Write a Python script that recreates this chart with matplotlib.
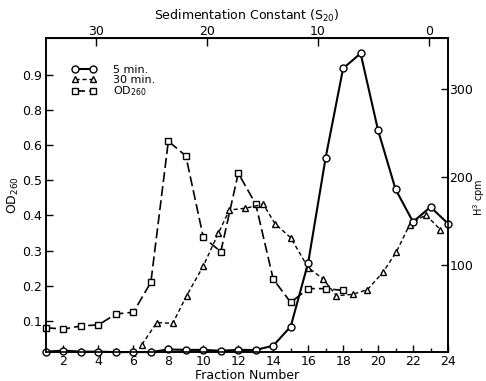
import matplotlib
matplotlib.use('Agg')
import matplotlib.pyplot as plt
from matplotlib import ticker

# 5 min. label, H3 cpm per fraction
fractions = list(range(1, 25))
cpm_5min = [1.5, 2.7, 1.5, 1.5, 1.0, 1.0, 1.0, 4.0, 3.5, 3.5, 2.5, 3.5,
            3.4, 8.3, 30, 102.6, 222, 323.5, 340.5, 253, 186, 149, 166, 147]

# 30 min. label (points sit between fractions in the original)
frac_30min = [6.48, 7.34, 8.25, 9.05, 10.0, 10.86, 11.49, 12.38, 13.43, 14.1, 15.0,
              16.0, 16.86, 17.62, 18.54, 19.39, 20.29, 21.05, 21.81, 22.73, 23.57]
cpm_30min = [9.5, 34.5, 33.7, 65.2, 98.9, 136, 162.5, 164.4, 169, 147, 131,
             97, 84, 65, 66.6, 72, 92, 115, 146, 157, 140]

# OD260
frac_od = list(range(1, 19))
od_260 = [0.081, 0.077, 0.086, 0.089, 0.120, 0.125, 0.210, 0.611, 0.569,
          0.338, 0.297, 0.520, 0.432, 0.219, 0.153, 0.192, 0.192, 0.187]

# the printed left axis skips 0.7, labels kept as printed
od_ticks = [0.1, 0.2, 0.3, 0.4, 0.5, 0.6, 0.7, 0.8]
od_tick_labels = ['0.1', '0.2', '0.3', '0.4', '0.5', '0.6', '0.8', '0.9']
cpm_ticks = [100, 200, 300]
sed_ticks = [30, 20, 10, 0]


def frac_to_sed(f):
    return (22.9 - f) / 0.635


def sed_to_frac(s):
    return 22.9 - 0.635 * s


plt.rcParams['font.family'] = 'DejaVu Sans'
plt.rcParams['font.size'] = 9

fig = plt.figure(figsize=(4.86, 3.81), dpi=100)
ax = fig.add_axes([46 / 486, 29 / 381, 402 / 486, 314 / 381])
ax2 = ax.twinx()

ax.set_xlim(1.0, 24.0)
ax.set_ylim(0.012, 0.904)
ax2.set_ylim(1.1, 358)

line_kw = dict(color='black', markerfacecolor='white', markeredgecolor='black',
               markeredgewidth=1.0, clip_on=False)

l_od, = ax.plot(frac_od, od_260, marker='s', markersize=5, linewidth=1.2,
                dashes=(6, 2.5), label='OD$_{260}$', **line_kw)
l_30, = ax2.plot(frac_30min, cpm_30min, marker='^', markersize=5, linewidth=1.0,
                 dashes=(3, 2), label='30 min.', **line_kw)
l_5, = ax2.plot(fractions, cpm_5min, marker='o', markersize=5, linewidth=1.5,
                label='5 min.', **line_kw)

# bottom axis
ax.xaxis.set_major_locator(ticker.MultipleLocator(2))
ax.xaxis.set_minor_locator(ticker.MultipleLocator(1))
ax.xaxis.set_major_formatter(ticker.FuncFormatter(lambda v, p: '' if v < 2 else '%d' % v))
ax.tick_params(axis='x', which='major', direction='in', length=5, width=1, pad=2)
ax.tick_params(axis='x', which='minor', direction='in', length=3, width=1)
ax.set_xlabel('Fraction Number', fontsize=9, labelpad=1)

# left axis
ax.yaxis.set_major_locator(ticker.FixedLocator(od_ticks))
ax.yaxis.set_major_formatter(ticker.FixedFormatter(od_tick_labels))
ax.tick_params(axis='y', direction='in', length=5, width=1, pad=3)
ax.set_ylabel('OD$_{260}$', fontsize=9)
ax.yaxis.set_label_coords(-0.062, 0.5)

# right axis
ax2.yaxis.set_major_locator(ticker.FixedLocator(cpm_ticks))
ax2.tick_params(axis='y', direction='in', length=5, width=1, pad=1)
ax2.set_ylabel('H$^3$ cpm', fontsize=7, va='center')
ax2.yaxis.set_label_coords(1.078, 0.494)

# top axis: sedimentation constant
sec = ax.secondary_xaxis('top', functions=(frac_to_sed, sed_to_frac))
sec.xaxis.set_major_locator(ticker.FixedLocator(sed_ticks))
sec.tick_params(direction='in', length=6, width=1, pad=0)
sec.set_xlabel('Sedimentation Constant (S$_{20}$)', fontsize=9, labelpad=4)

for a in (ax, ax2):
    for s in a.spines.values():
        s.set_linewidth(1.2)

ax2.legend(handles=[l_5, l_30, l_od], loc='upper left', bbox_to_anchor=(0.045, 0.94),
           frameon=False, numpoints=2, handlelength=2.2, handletextpad=1.5,
           labelspacing=0.0, fontsize=8, borderpad=0.2)

fig.savefig('out.png', dpi=100)
